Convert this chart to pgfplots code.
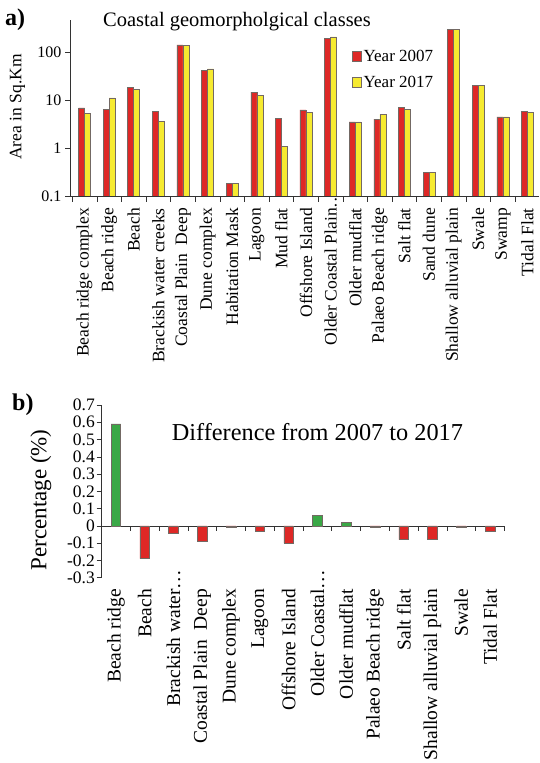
\documentclass[border=0pt]{standalone}
\usepackage{fontspec}
\setmainfont{Liberation Serif}
\usepackage{pgfplots}
\pgfplotsset{compat=1.18}
\definecolor{cred}{RGB}{222,40,38}
\definecolor{cyel}{RGB}{246,234,48}
\definecolor{cgreen}{RGB}{58,168,70}
\definecolor{cedge}{RGB}{115,105,100}
\newcommand\fs[1]{\fontsize{#1pt}{#1pt}\selectfont}
\begin{document}
\begin{tikzpicture}
\useasboundingbox (0pt,0pt) rectangle (539pt,763pt);
% ---------------- top chart ----------------
\begin{axis}[
  at={(70pt,567pt)}, anchor=south west,
  scale only axis, width=469pt, height=176.3pt,
  ymode=log, log origin y=infty, log basis y=10,
  ymin=0.1, ymax=470,
  xmin=-0.59, xmax=18.47,
  axis x line=bottom, axis y line=left,
  axis line style={-, black!80, line width=0.6pt},
  tick align=outside,
  ytick={0.1,1,10,100}, yticklabels={0.1,1,10,100},
  yminorticks=false,
  major tick length=5pt, minor tick length=6pt,
  ytick style={black!80, line width=0.6pt},
  yticklabel style={font=\fs{16}},
  xtick={0,...,18},
  xticklabels={Beach ridge complex, Beach ridge, Beach, Brackish water creeks, Coastal Plain~ Deep, Dune complex, Habitation Mask, Lagoon, Mud flat, Offshore Island, Older Coastal Plain\rlap{…}, Older mudflat, Palaeo Beach ridge, Salt flat, Sand dune, Shallow alluvial plain, Swale, Swamp, Tidal Flat},
  major x tick style={draw=none},
  minor xtick={-0.5,0.5,...,17.5},
  minor x tick style={black!80, line width=0.6pt},
  xticklabel style={rotate=90, anchor=east, font=\fs{17.5}, inner sep=0pt},
  xticklabel shift=7pt,
  ybar=0pt, bar width=6pt,
  /pgf/number format/assume math mode=true,
  legend style={draw=none, fill=none, at={(0.6,0.84)}, anchor=north west, font=\fs{17}, row sep=9pt, inner sep=0pt, nodes={inner sep=2pt}},
  legend cell align=left,
  legend image code/.code={\draw[#1,/tikz/.cd] (0pt,-4.5pt) rectangle (9.5pt,5pt);},
]
\addplot[fill=cred, draw=cedge, line width=0.5pt] coordinates {
 (0,6.88) (1,6.45) (2,18.0) (3,5.86) (4,141) (5,41.6) (6,0.185) (7,14.6) (8,4.11) (9,6.25)
 (10,194) (11,3.50) (12,3.98) (13,6.99) (14,0.305) (15,295) (16,19.9) (17,4.46) (18,5.76)};
\addplot[fill=cyel, draw=cedge, line width=0.5pt] coordinates {
 (0,5.32) (1,11.1) (2,16.6) (3,3.56) (4,137) (5,44.4) (6,0.185) (7,12.5) (8,1.08) (9,5.5)
 (10,207) (11,3.50) (12,4.99) (13,6.35) (14,0.305) (15,295) (16,19.9) (17,4.46) (18,5.5)};
\legend{Year 2007, Year 2017}
\end{axis}
% ---------------- bottom chart ----------------
\begin{axis}[
  at={(101.5pt,185.3pt)}, anchor=south west,
  scale only axis, width=403pt, height=172.7pt,
  ymin=-0.3, ymax=0.7, xmin=-0.5, xmax=13.5,
  axis x line=middle, axis y line=left,
  axis line style={-, black!80, line width=0.6pt},
  tick align=outside,
  major tick length=5pt, minor tick length=5pt,
  ytick={-0.3,-0.2,-0.1,0,0.1,0.2,0.3,0.4,0.5,0.6,0.7},
  yticklabels={-0.3,-0.2,-0.1,0,0.1,0.2,0.3,0.4,0.5,0.6,0.7},
  ytick style={black!80, line width=0.6pt},
  yticklabel style={font=\fs{17.5}, inner sep=1.5pt},
  xtick={0,...,13},
  xticklabels={Beach ridge, Beach, Brackish water\rlap{…}, Coastal Plain~ Deep, Dune complex, Lagoon, Offshore Island, Older Coastal\rlap{…}, Older mudflat, Palaeo Beach ridge, Salt flat, Shallow alluvial plain, Swale, Tidal Flat},
  major x tick style={draw=none},
  minor xtick={0.5,1.5,...,13.5},
  minor x tick style={black!80, line width=0.6pt},
  xticklabel style={rotate=90, anchor=east, font=\fs{19.5}, inner sep=0pt},
  xticklabel shift=58pt,
  ybar, bar width=9.6pt, bar shift=0pt,
  /pgf/number format/assume math mode=true,
]
\addplot[fill=cgreen, draw=cedge, line width=0.5pt] coordinates {
 (0,0.59) (7,0.06) (8,0.02)};
\addplot[fill=cred, draw=cedge, line width=0.5pt] coordinates {
 (1,-0.19) (2,-0.04) (3,-0.09) (4,-0.01) (5,-0.03) (6,-0.10) (9,-0.01) (10,-0.08) (11,-0.08) (12,-0.01) (13,-0.03)};
\end{axis}
\node[rotate=90, anchor=center, font=\fs{17.5}, inner sep=0pt] at (17.5pt,656pt) {Area in Sq.Km};
\node[rotate=90, anchor=center, font=\fs{23}, inner sep=0pt] at (41pt,263pt) {Percentage (\%)};
\node[anchor=base west, font=\fs{24}\bfseries, inner sep=0pt] at (5pt,737pt) {a)};
\node[anchor=base west, font=\fs{24}\bfseries, inner sep=0pt] at (12pt,352pt) {b)};
\node[anchor=base west, font=\fs{20.5}, inner sep=0pt] at (103pt,736pt) {Coastal geomorpholgical classes};
\node[anchor=base west, font=\fs{24.3}, inner sep=0pt] at (171.7pt,322pt) {Difference from 2007 to 2017};
\end{tikzpicture}
\end{document}
